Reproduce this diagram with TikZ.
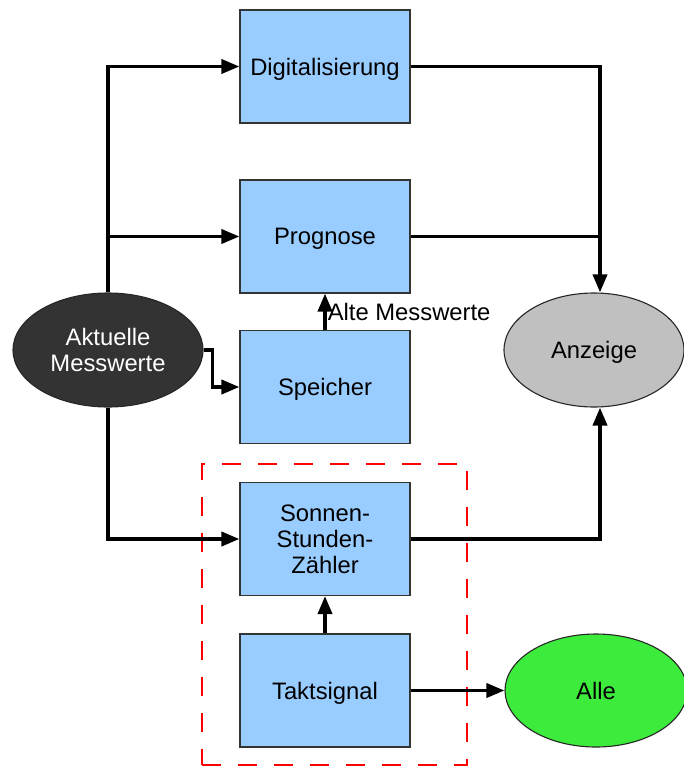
\documentclass[tikz,border=0pt]{standalone}
\usepackage{fontspec}
\setmainfont{Liberation Sans}
\usetikzlibrary{arrows.meta,shapes.geometric,calc}
\definecolor{boxblue}{HTML}{99CCFF}
\definecolor{darkfill}{HTML}{333333}
\definecolor{greyfill}{HTML}{C0C0C0}
\definecolor{greenfill}{HTML}{3DEB3D}
\tikzset{
  labelfont/.style={font=\fontsize{23.8}{26}\selectfont},
  blockbox/.style={draw=black!80, line width=1.1pt, fill=boxblue, minimum width=170pt,
    minimum height=113pt, inner sep=0pt, align=center, text depth=0pt, labelfont},
  oval/.style={ellipse, draw=black!85, line width=1.1pt, inner sep=0pt, align=center,
    text depth=0pt, labelfont},
  conn/.style={draw=black, line width=3.6pt, -{Triangle[length=18pt,width=14pt]}},
  plainline/.style={draw=black, line width=3.6pt},
  groupbox/.style={draw=red, line width=1.8pt, dash pattern=on 19pt off 17pt,
    minimum width=265pt, minimum height=301pt, inner sep=0pt},
}
\begin{document}
\begin{tikzpicture}[x=1pt,y=-1pt]
\useasboundingbox (0,0) rectangle (683,767);

% clock/counter group
\node[groupbox] (grp) at (334.5,614.5) {};

% processing blocks
\node[blockbox] (dig)  at (325,66.5)  {Digitalisierung};
\node[blockbox] (prog) at (325,236.5) {Prognose};
\node[blockbox] (spe)  at (325,387)   {Speicher};
\node[blockbox] (sonn) at (325,539)   {Sonnen-\\Stunden-\\Zähler};
\node[blockbox] (takt) at (325,690.5) {Taktsignal};

% inputs and outputs
\node[oval, fill=darkfill, text=white, minimum width=190pt, minimum height=114pt]
  (akt) at (108,350) {Aktuelle\\Messwerte};
\node[oval, fill=greyfill, minimum width=180pt, minimum height=114pt]
  (anz) at (594,350) {Anzeige};
\node[oval, fill=greenfill, minimum width=182pt, minimum height=113pt]
  (alle) at (596,690.5) {Alle};

\coordinate (anzT) at ($(anz.north)+(6,0)$);
\coordinate (anzB) at ($(anz.south)+(6,0)$);
\coordinate (split) at (akt.north |- prog.west);

% measured values to the blocks
\draw[conn] (akt.north) |- (dig.west);
\draw[conn] (split) -- (prog.west);
\draw[conn] (akt.east) -- ++(9,0) |- (spe.west);
\draw[conn] (akt.south) |- (sonn.west);

% stored values to the forecast
\draw[conn] (spe.north) -- (prog.south)
  node[midway, right, inner sep=1pt, labelfont] (alt) {Alte Messwerte};

% results to the display
\draw[conn] (dig.east) -| (anzT);
\draw[plainline] (prog.east) -- (prog.east -| anzT);
\draw[conn] (sonn.east) -| (anzB);

% clock signal
\draw[conn] (takt.north) -- (sonn.south);
\draw[conn] (takt.east) -- (alle.west);
\end{tikzpicture}
\end{document}
